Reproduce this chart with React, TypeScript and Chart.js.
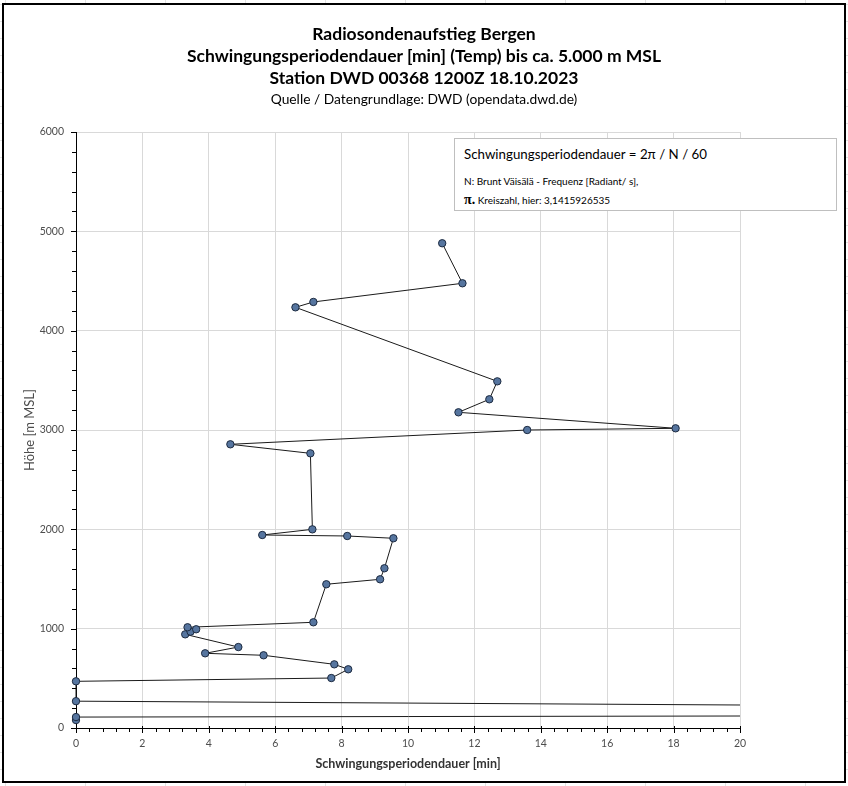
import { useEffect, useRef } from "react"
import { Chart, registerables } from "chart.js"

Chart.register(...registerables)

// Messpunkte von unten nach oben (Höhe in m MSL, Periode in min)
const heights = [
  80, 110, 145, 270, 470, 503, 591, 641, 732, 752, 815, 943, 970, 994, 1014, 1064, 1447, 1497, 1608, 1910, 1933,
  1943, 2000, 2765, 2856, 3000, 3017, 3178, 3309, 3490, 4235, 4289, 4477, 4880,
]
const periods = [
  0, 0, 65, 0, 0, 7.69, 8.2, 7.78, 5.65, 3.89, 4.89, 3.29, 3.45, 3.62, 3.36, 7.15, 7.54, 9.16, 9.29, 9.56, 8.17, 5.61,
  7.12, 7.06, 4.65, 13.59, 18.06, 11.52, 12.45, 12.69, 6.61, 7.15, 11.64, 11.03,
]

const xTicks = [0, 2, 4, 6, 8, 10, 12, 14, 16, 18, 20]
const yTicks = [0, 1000, 2000, 3000, 4000, 5000, 6000]
const xMinorStep = 0.4
const yMinorStep = 200

const titleLines = [
  "Radiosondenaufstieg Bergen",
  "Schwingungsperiodendauer [min] (Temp) bis ca. 5.000 m MSL",
  "Station DWD 00368 1200Z 18.10.2023",
]
const sourceLine = "Quelle / Datengrundlage: DWD (opendata.dwd.de)"

const FONT = "Lato, 'Open Sans', sans-serif"

// kleine Teilstriche wie in Excel
const minorTicks = {
  id: "minorTicks",
  afterDraw(chart: Chart) {
    const { ctx, chartArea, scales } = chart
    const x = scales.x
    const y = scales.y
    ctx.save()
    ctx.strokeStyle = "#000"
    ctx.lineWidth = 1
    ctx.beginPath()
    const nx = Math.round((xTicks[xTicks.length - 1] - xTicks[0]) / xMinorStep)
    for (let i = 0; i <= nx; i++) {
      const v = xTicks[0] + i * xMinorStep
      const px = Math.round(x.getPixelForValue(v)) + 0.5
      const major = i % 5 === 0
      ctx.moveTo(px, chartArea.bottom - (major ? 2 : 0))
      ctx.lineTo(px, chartArea.bottom + (major ? 5 : 4))
    }
    const ny = Math.round((yTicks[yTicks.length - 1] - yTicks[0]) / yMinorStep)
    for (let i = 0; i <= ny; i++) {
      const v = yTicks[0] + i * yMinorStep
      const py = Math.round(y.getPixelForValue(v)) + 0.5
      const major = i % 5 === 0
      ctx.moveTo(chartArea.left - (major ? 5 : 4), py)
      ctx.lineTo(chartArea.left, py)
    }
    ctx.stroke()
    ctx.restore()
  },
}

function PeriodChart() {
  const canvasRef = useRef<HTMLCanvasElement | null>(null)

  useEffect(() => {
    if (!canvasRef.current) return
    const chart = new Chart(canvasRef.current, {
      type: "scatter",
      data: {
        datasets: [
          {
            label: "Schwingungsperiodendauer",
            data: periods.map((p, i) => ({ x: p, y: heights[i] })),
            showLine: true,
            borderColor: "#1a1a1a",
            borderWidth: 1,
            pointRadius: 3.7,
            pointBackgroundColor: "#56759f",
            pointBorderColor: "#1c2a40",
            pointBorderWidth: 1,
            clip: { left: 8, top: 0, right: 0, bottom: 8 },
          },
        ],
      },
      options: {
        responsive: false,
        animation: false,
        layout: { padding: { left: 0, top: 132, right: 108, bottom: 0 } },
        plugins: {
          legend: { display: false },
          tooltip: { enabled: false },
        },
        scales: {
          x: {
            type: "linear",
            min: 0,
            max: 20,
            afterBuildTicks: (scale) => {
              scale.ticks = xTicks.map((v) => ({ value: v }))
            },
            afterFit: (scale) => {
              scale.height = 58
            },
            ticks: {
              color: "#4d4d4d",
              font: { family: FONT, size: 10.5 },
              padding: 9,
              maxRotation: 0,
              callback: (v) => String(v),
            },
            grid: { color: "#d9d9d9", drawTicks: false },
            border: { color: "#000", width: 1 },
            title: {
              display: true,
              text: "Schwingungsperiodendauer [min]",
              color: "#333",
              font: { family: FONT, size: 12.5, weight: "bold" },
              padding: { top: 0, bottom: 15 },
            },
          },
          y: {
            type: "linear",
            min: 0,
            max: 6000,
            afterBuildTicks: (scale) => {
              scale.ticks = yTicks.map((v) => ({ value: v }))
            },
            afterFit: (scale) => {
              scale.width = 76
            },
            ticks: {
              color: "#4d4d4d",
              font: { family: FONT, size: 10.5 },
              padding: 12,
              callback: (v) => String(v),
            },
            grid: { color: "#d9d9d9", drawTicks: false },
            border: { color: "#000", width: 1 },
            title: {
              display: true,
              text: "Höhe [m MSL]",
              color: "#4d4d4d",
              font: { family: FONT, size: 13 },
              padding: { top: 22, bottom: 0 },
            },
          },
        },
      },
      plugins: [minorTicks],
    })
    return () => chart.destroy()
  }, [])

  return <canvas ref={canvasRef} width={848} height={786} style={{ position: "absolute", left: 0, top: 0 }} />
}

export default function App() {
  return (
    <div
      style={{
        position: "absolute",
        left: 0,
        top: 0,
        width: 848,
        height: 786,
        overflow: "hidden",
        fontFamily: FONT,
        background:
          "repeating-linear-gradient(90deg, transparent 0 5px, #e3e3e3 5px 6px, transparent 6px 80px), repeating-linear-gradient(180deg, transparent 0 4px, #e3e3e3 4px 5px, transparent 5px 17px), #fff",
      }}
    >
      <div
        style={{
          position: "absolute",
          left: 2,
          top: 3,
          width: 840,
          height: 776,
          border: "2px solid #000",
          background: "#fff",
        }}
      />
      <PeriodChart />
      {titleLines.map((t, i) => (
        <div
          key={t}
          style={{
            position: "absolute",
            left: 0,
            width: 848,
            top: 23 + i * 22,
            lineHeight: "22px",
            textAlign: "center",
            fontSize: 17.5,
            fontWeight: "bold",
            color: "#000",
          }}
        >
          {t}
        </div>
      ))}
      <div
        style={{
          position: "absolute",
          left: 0,
          width: 848,
          top: 89,
          lineHeight: "20px",
          textAlign: "center",
          fontSize: 13.8,
          color: "#000",
        }}
      >
        {sourceLine}
      </div>
      <div
        style={{
          position: "absolute",
          left: 454,
          top: 138,
          width: 381,
          height: 71,
          border: "1px solid #bfbfbf",
          background: "#fff",
          color: "#000",
        }}
      >
        <div style={{ position: "absolute", left: 9, top: 5, fontSize: 13.3, lineHeight: "20px", whiteSpace: "nowrap" }}>
          Schwingungsperiodendauer = 2π / N / 60
        </div>
        <div style={{ position: "absolute", left: 9, top: 35, fontSize: 10, lineHeight: "14px", whiteSpace: "nowrap" }}>
          N: Brunt Väisälä - Frequenz [Radiant/ s],
        </div>
        <div style={{ position: "absolute", left: 9, top: 52, fontSize: 10, lineHeight: "18px", whiteSpace: "nowrap" }}>
          <span style={{ fontFamily: "'Liberation Serif', serif", fontSize: 14, fontWeight: "bold" }}>π.</span> Kreiszahl,
          hier: 3,1415926535
        </div>
      </div>
    </div>
  )
}
